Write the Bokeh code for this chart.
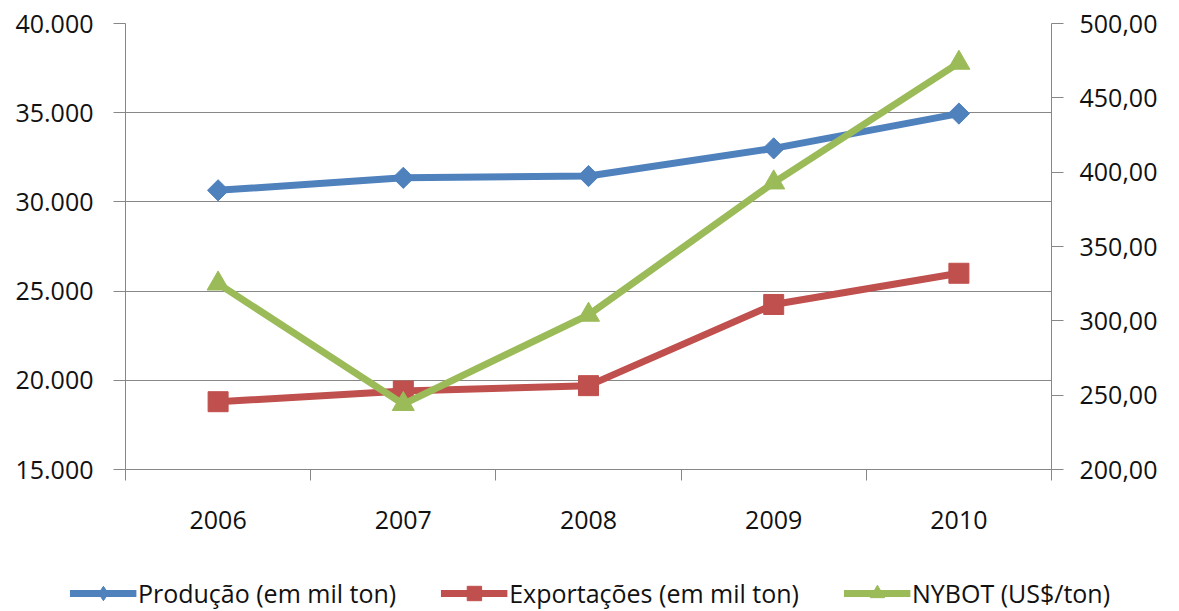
import numpy as np
from bokeh.plotting import figure
from bokeh.models import Range1d, LinearAxis, FixedTicker, Legend, LegendItem
from bokeh.embed import file_html
from bokeh.resources import INLINE

# Dados
years = ["2006", "2007", "2008", "2009", "2010"]
producao = [30650, 31350, 31450, 33000, 34950]        # mil ton
exportacoes = [18800, 19400, 19700, 24250, 26000]     # mil ton
nybot = [325.0, 244.0, 304.0, 393.0, 473.5]           # US$/ton

left_ticks = [15000, 20000, 25000, 30000, 35000, 40000]
left_tick_labels = ["15.000", "20.000", "25.000", "30.000", "35.000", "40.000"]
right_ticks = [200, 250, 300, 350, 400, 450, 500]
right_tick_labels = ["200,00", "250,00", "300,00", "350,00", "400,00", "450,00", "500,00"]

# (rótulo, valores, cor, marcador no gráfico, marcador na legenda, eixo)
series = [
    ("Produção (em mil ton)", producao, "#4F81BD",
     dict(marker="square", angle=np.pi / 4, size=15), dict(marker="diamond"), "default"),
    ("Exportações (em mil ton)", exportacoes, "#C0504D",
     dict(marker="square", size=20), dict(marker="square"), "default"),
    ("NYBOT (US$/ton)", nybot, "#9BBB59",
     dict(marker="triangle", size=22), dict(marker="triangle"), "preco"),
]

FONT = "Open Sans"
FSIZE = "25px"
TXT = "#111111"
GRID = "#878787"
W = 1179
H_CHART = 549
H_LEGEND = 62

xs = list(range(len(years)))
bounds = [i - 0.5 for i in range(len(years) + 1)]

p = figure(width=W, height=H_CHART, output_backend="svg", toolbar_location=None,
           x_range=Range1d(-0.5, len(years) - 0.5), y_range=Range1d(15000, 40000),
           min_border_left=125, min_border_right=128, min_border_top=23,
           min_border_bottom=80, outline_line_color=None,
           background_fill_color="white", border_fill_color="white")
p.extra_y_ranges = {"preco": Range1d(200, 500)}

# Eixo X: rótulos no centro das categorias, marcas nos limites
xa = p.xaxis[0]
xa.ticker = FixedTicker(ticks=xs, minor_ticks=bounds)
xa.major_label_overrides = {i: y for i, y in zip(xs, years)}
xa.major_tick_out = 0
xa.major_tick_in = 0
xa.minor_tick_out = 11
xa.minor_tick_in = 0
xa.minor_tick_line_color = GRID
xa.axis_line_color = GRID
xa.major_label_standoff = 30
xa.major_label_text_font = FONT
xa.major_label_text_font_size = FSIZE
xa.major_label_text_color = TXT

# Eixo Y esquerdo
ya = p.yaxis[0]
ya.ticker = FixedTicker(ticks=left_ticks)
ya.major_label_overrides = dict(zip(left_ticks, left_tick_labels))
ya.major_tick_out = 12
ya.major_tick_in = 0
ya.minor_tick_line_color = None
ya.major_tick_line_color = GRID
ya.axis_line_color = GRID
ya.major_label_standoff = 20
ya.major_label_text_font = FONT
ya.major_label_text_font_size = FSIZE
ya.major_label_text_color = TXT

# Eixo Y direito (preço)
ra = LinearAxis(y_range_name="preco", ticker=FixedTicker(ticks=right_ticks),
                major_label_overrides=dict(zip(right_ticks, right_tick_labels)),
                major_tick_out=12, major_tick_in=0, minor_tick_line_color=None,
                major_tick_line_color=GRID, axis_line_color=GRID,
                major_label_standoff=16, major_label_text_font=FONT,
                major_label_text_font_size=FSIZE, major_label_text_color=TXT)
p.add_layout(ra, "right")

p.xgrid.visible = False
p.ygrid.ticker = FixedTicker(ticks=left_ticks)
p.ygrid.grid_line_color = GRID
p.ygrid.grid_line_width = 1

for label, vals, color, mk, _, rng in series:
    p.line(xs, vals, line_width=7, color=color, y_range_name=rng)
    p.scatter(xs, vals, color=color, y_range_name=rng, **mk)

# Faixa da legenda: mesmas séries, fora da área visível, só para as amostras
lg = figure(width=W, height=H_LEGEND, output_backend="svg", toolbar_location=None,
            x_range=Range1d(-0.5, len(years) - 0.5), y_range=Range1d(0, 1),
            x_axis_type=None, y_axis_type=None, min_border=0,
            min_border_left=0, min_border_right=0, min_border_top=0, min_border_bottom=0,
            outline_line_color=None, background_fill_color="white",
            border_fill_color="white")
lg.xgrid.visible = False
lg.ygrid.visible = False
items = []
for label, vals, color, _, lmk, rng in series:
    r_line = lg.line(xs, vals, line_width=7, color=color)
    r_mark = lg.scatter(xs, vals, color=color, **lmk)
    items.append(LegendItem(label=label, renderers=[r_line, r_mark]))

legend = Legend(items=items, orientation="horizontal", location="bottom_center",
                glyph_width=67, glyph_height=36, label_standoff=2, spacing=44,
                padding=0, margin=0, border_line_color=None, background_fill_alpha=0,
                label_text_font=FONT, label_text_font_size=FSIZE, label_text_color=TXT)
lg.add_layout(legend, "center")

# Duas raízes independentes, empilhadas na página
open("out.html", "w").write(file_html([p, lg], INLINE))
